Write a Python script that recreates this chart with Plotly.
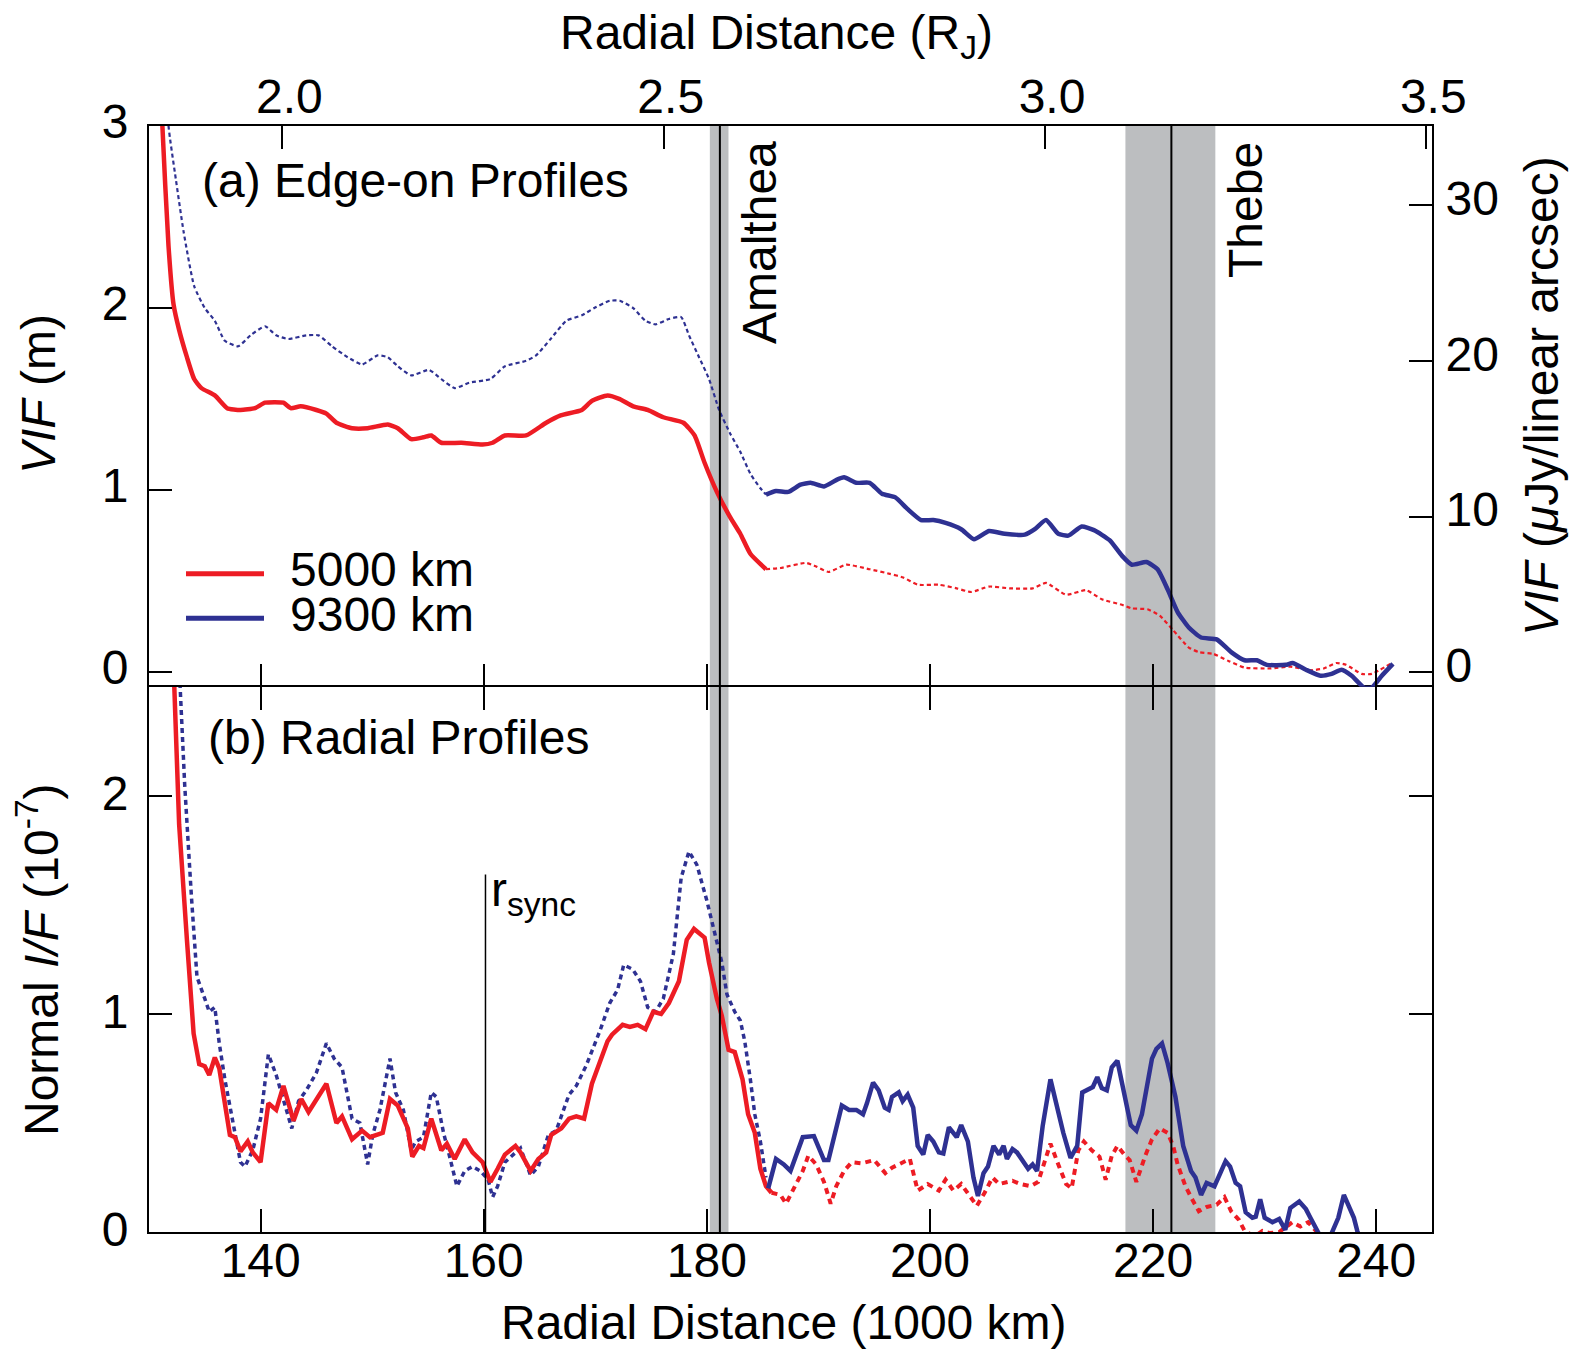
import plotly.graph_objects as go

# ---------------- data ----------------
# Top panel (a): edge-on profiles, VIF (m) vs radial distance (1000 km)
KM_A_RED_SOLID = [130.9, 131.2, 131.75, 132.2, 132.7, 133.4, 134.05, 134.7, 135.9, 137.0, 138.2, 139.5,
                  140.4, 142.05, 142.7, 143.6, 145.0, 145.9, 146.8, 148.2, 149.6, 151.4, 152.3, 153.5,
                  154.6, 155.3, 156.2, 158.0, 159.9, 160.8, 161.9, 163.8, 165.6, 166.9, 168.8, 169.7,
                  171.1, 172.2, 173.4, 174.7, 176.1, 177.9, 178.9, 179.8, 180.9, 182.1, 183.0, 183.9,
                  185.3]
VIF_A_RED_SOLID = [3.6, 3.0, 2.34, 2.02, 1.88, 1.73, 1.61, 1.56, 1.52, 1.45, 1.44, 1.45,
                   1.48, 1.48, 1.45, 1.46, 1.44, 1.42, 1.37, 1.34, 1.34, 1.36, 1.34, 1.28,
                   1.29, 1.30, 1.26, 1.26, 1.25, 1.26, 1.30, 1.30, 1.37, 1.41, 1.44, 1.49,
                   1.52, 1.50, 1.46, 1.44, 1.40, 1.37, 1.30, 1.15, 0.99, 0.85, 0.76, 0.65,
                   0.565]

KM_A_RED_DOT = [185.3, 186.6, 188.9, 189.8, 190.9, 192.5, 194.6, 196.4, 197.6, 198.9, 200.8, 202.4,
                203.7, 205.3, 207.2, 209.2, 210.4, 212.2, 214.0, 215.4, 217.2, 218.1, 219.5, 220.6,
                221.8, 223.2, 224.1, 225.4, 226.8, 228.2, 230.5, 232.3, 234.1, 235.3, 236.4, 237.3,
                238.7, 239.6, 241.4]
VIF_A_RED_DOT = [0.565, 0.572, 0.60, 0.58, 0.55, 0.59, 0.565, 0.54, 0.52, 0.48, 0.48, 0.46,
                 0.44, 0.47, 0.46, 0.46, 0.49, 0.425, 0.45, 0.40, 0.37, 0.35, 0.345, 0.31,
                 0.23, 0.135, 0.11, 0.10, 0.06, 0.025, 0.02, 0.03, 0.01, 0.02, 0.05, 0.04,
                 -0.01, -0.01, 0.05]

KM_A_BLUE_DOT = [131.4, 131.75, 132.4, 133.1, 134.05, 135.0, 135.9, 136.8, 138.0, 139.1, 140.4, 141.4,
                 142.5, 144.1, 145.2, 146.4, 147.8, 149.1, 150.5, 151.4, 152.3, 153.5, 155.1, 156.2,
                 157.4, 158.7, 160.6, 161.9, 163.8, 164.7, 166.0, 167.4, 168.8, 169.9, 171.3, 172.2,
                 173.4, 174.5, 175.4, 176.6, 177.7, 178.4, 179.3, 180.2, 181.1, 182.1, 183.0, 183.9,
                 184.8, 185.3]
VIF_A_BLUE_DOT = [3.5, 3.0, 2.71, 2.42, 2.12, 2.00, 1.93, 1.82, 1.79, 1.85, 1.90, 1.85,
                  1.83, 1.85, 1.85, 1.79, 1.73, 1.69, 1.74, 1.73, 1.68, 1.63, 1.66, 1.61,
                  1.56, 1.59, 1.61, 1.68, 1.71, 1.74, 1.83, 1.93, 1.96, 2.00, 2.04, 2.04,
                  2.00, 1.93, 1.91, 1.94, 1.95, 1.85, 1.73, 1.61, 1.44, 1.31, 1.21, 1.09,
                  1.01, 0.975]

KM_A_BLUE_SOLID = [185.3, 186.2, 187.3, 188.4, 189.3, 190.5, 191.6, 192.3, 193.4, 194.6, 195.7, 196.9,
                   198.0, 199.2, 200.3, 201.4, 202.8, 203.95, 205.3, 206.7, 208.5, 209.4, 210.4, 211.5,
                   212.4, 213.6, 214.7, 216.1, 217.2, 218.1, 219.4, 220.4, 221.3, 222.2, 223.2, 224.3,
                   225.7, 227.0, 228.2, 229.3, 230.2, 231.9, 232.5, 233.7, 235.0, 236.0, 236.9, 237.8,
                   238.9, 239.6, 240.5, 241.5]
VIF_A_BLUE_SOLID = [0.975, 0.995, 0.99, 1.03, 1.04, 1.02, 1.055, 1.07, 1.04, 1.04, 0.98, 0.96,
                    0.895, 0.835, 0.835, 0.82, 0.785, 0.73, 0.775, 0.76, 0.755, 0.785, 0.835, 0.76,
                    0.75, 0.80, 0.78, 0.725, 0.64, 0.59, 0.605, 0.565, 0.455, 0.33, 0.245, 0.19,
                    0.18, 0.11, 0.065, 0.065, 0.04, 0.04, 0.05, 0.013, -0.02, -0.01, 0.013, -0.02,
                    -0.085, -0.085, -0.02, 0.045]

# Bottom panel (b): radial profiles, normal I/F (1e-7)
KM_B_RED_SOLID = [132.2, 132.7, 133.4, 134.0, 134.5, 135.0, 135.4, 135.9, 136.3, 136.8, 137.25, 137.7,
                  138.2, 138.85, 139.3, 140.0, 140.7, 141.4, 142.05, 142.96, 143.65, 144.3, 145.0, 145.9,
                  146.8, 147.3, 148.2, 149.1, 149.8, 150.95, 151.6, 152.3, 153.2, 153.6, 154.2, 154.6,
                  155.3, 156.2, 156.7, 157.4, 158.3, 159.0, 159.9, 160.6, 161.25, 161.9, 162.85, 163.3,
                  164.2, 164.9, 165.6, 166.05, 166.96, 167.65, 168.3, 169.0, 169.7, 170.4, 171.1, 171.5,
                  172.45, 173.1, 173.8, 174.5, 175.2, 175.9, 176.6, 177.5, 178.2, 178.85, 179.8, 180.2,
                  180.9, 181.35, 181.95, 182.5, 183.2, 183.7, 184.3, 184.8, 185.3, 185.8]
IF_B_RED_SOLID = [2.6, 1.87, 1.34, 0.91, 0.77, 0.76, 0.72, 0.80, 0.75, 0.60, 0.445, 0.435,
                  0.37, 0.415, 0.365, 0.32, 0.59, 0.56, 0.67, 0.51, 0.61, 0.55, 0.61, 0.68,
                  0.50, 0.53, 0.425, 0.465, 0.435, 0.455, 0.61, 0.58, 0.475, 0.345, 0.395, 0.385,
                  0.52, 0.375, 0.405, 0.335, 0.425, 0.365, 0.32, 0.23, 0.29, 0.355, 0.395, 0.365,
                  0.28, 0.335, 0.365, 0.445, 0.475, 0.52, 0.53, 0.52, 0.68, 0.78, 0.875, 0.905,
                  0.95, 0.94, 0.95, 0.93, 1.01, 1.00, 1.05, 1.15, 1.34, 1.39, 1.35, 1.235,
                  1.07, 0.99, 0.835, 0.825, 0.70, 0.54, 0.455, 0.29, 0.21, 0.18]

KM_B_BLUE_DOT = [132.7, 133.2, 133.8, 134.3, 135.0, 135.4, 135.9, 136.3, 136.8, 137.5, 138.2, 138.6,
                 139.3, 140.0, 140.7, 141.4, 142.05, 142.8, 143.4, 144.1, 145.0, 145.9, 146.6, 147.3,
                 148.2, 148.9, 149.6, 150.05, 150.7, 151.6, 152.1, 152.8, 153.5, 153.9, 154.6, 155.3,
                 155.75, 156.4, 156.9, 157.6, 158.3, 159.0, 159.7, 160.4, 160.8, 161.25, 161.9, 162.6,
                 163.3, 164.2, 164.9, 165.8, 166.5, 167.65, 168.3, 169.2, 170.4, 171.3, 172.0, 172.55,
                 173.35, 174.05, 174.7, 175.4, 176.1, 177.0, 177.7, 178.4, 179.1, 180.0, 180.7, 181.35,
                 181.8, 182.5, 183.0, 183.4, 183.9, 184.3, 184.8, 185.3]
IF_B_BLUE_DOT = [2.6, 2.05, 1.54, 1.17, 1.07, 1.01, 1.03, 0.865, 0.70, 0.50, 0.32, 0.30,
                 0.375, 0.52, 0.815, 0.72, 0.60, 0.475, 0.60, 0.65, 0.73, 0.865, 0.795, 0.755,
                 0.52, 0.50, 0.31, 0.445, 0.56, 0.795, 0.64, 0.56, 0.375, 0.415, 0.435, 0.64,
                 0.62, 0.455, 0.355, 0.21, 0.28, 0.30, 0.28, 0.24, 0.16, 0.21, 0.32, 0.355,
                 0.385, 0.26, 0.30, 0.445, 0.465, 0.63, 0.67, 0.765, 0.92, 1.05, 1.11, 1.225,
                 1.205, 1.15, 1.03, 1.01, 1.07, 1.275, 1.625, 1.745, 1.685, 1.52, 1.37, 1.235,
                 1.09, 1.01, 0.97, 0.875, 0.70, 0.54, 0.415, 0.25]

KM_B_BLUE_SOLID = [185.5, 186.2, 186.9, 187.5, 188.6, 189.6, 190.5, 190.9, 192.1, 192.75, 193.4, 194.0,
                   194.35, 194.9, 195.4, 195.95, 196.3, 196.6, 197.2, 197.55, 198.0, 198.5, 198.9, 199.4,
                   199.8, 200.3, 200.8, 201.2, 201.7, 202.4, 202.8, 203.4, 203.9, 204.3, 204.8, 205.2,
                   205.7, 206.2, 206.6, 206.9, 207.4, 207.8, 208.8, 209.2, 209.6, 210.1, 210.8, 211.4,
                   211.95, 212.6, 213.2, 213.65, 214.2, 214.6, 215.0, 215.4, 215.85, 216.3, 216.8, 217.3,
                   218.0, 218.5, 219.0, 219.9, 220.3, 220.8, 221.3, 222.0, 222.7, 223.4, 223.8, 224.3,
                   224.8, 225.5, 225.9, 226.5, 226.9, 227.4, 227.8, 228.3, 228.9, 229.2, 229.6, 230.0,
                   230.7, 231.3, 231.85, 232.3, 233.1, 233.7, 234.1, 234.7, 235.3, 235.8, 236.1, 236.6,
                   237.1, 237.6, 238.0, 238.3, 238.7]
IF_B_BLUE_SOLID = [0.20, 0.335, 0.31, 0.28, 0.435, 0.44, 0.33, 0.33, 0.58, 0.56, 0.56, 0.54,
                   0.59, 0.685, 0.65, 0.57, 0.56, 0.62, 0.64, 0.60, 0.63, 0.57, 0.395, 0.355,
                   0.445, 0.415, 0.365, 0.36, 0.48, 0.435, 0.49, 0.415, 0.25, 0.165, 0.27, 0.30,
                   0.395, 0.355, 0.395, 0.335, 0.38, 0.365, 0.29, 0.31, 0.28, 0.485, 0.70, 0.56,
                   0.455, 0.34, 0.395, 0.64, 0.655, 0.665, 0.71, 0.66, 0.65, 0.755, 0.785, 0.67,
                   0.49, 0.465, 0.54, 0.795, 0.84, 0.865, 0.775, 0.62, 0.395, 0.28, 0.25, 0.17,
                   0.225, 0.21, 0.26, 0.325, 0.30, 0.225, 0.21, 0.09, 0.065, 0.07, 0.15, 0.065,
                   0.045, 0.06, 0.01, 0.11, 0.14, 0.105, 0.065, 0.005, -0.05, -0.03, 0.005, 0.065,
                   0.17, 0.105, 0.065, 0.005, -0.05]

KM_B_RED_DOT = [185.8, 186.6, 187.1, 188.6, 189.1, 189.8, 190.5, 191.1, 191.6, 192.3, 193.0, 193.9,
                195.0, 196.0, 196.6, 197.6, 198.2, 198.9, 199.8, 200.8, 201.4, 202.1, 202.8, 203.5,
                204.2, 204.9, 205.6, 206.2, 207.4, 208.1, 209.0, 209.7, 210.4, 210.8, 211.5, 212.2,
                212.7, 213.3, 213.8, 214.5, 215.2, 215.75, 216.3, 216.8, 217.5, 217.9, 218.5, 219.3,
                219.9, 220.6, 221.3, 221.8, 222.2, 222.9, 223.5, 224.1, 224.8, 225.7, 226.4, 227.0,
                227.7, 228.2, 229.1, 229.8, 230.5, 231.3, 232.5, 233.2, 233.9, 234.6, 235.2]
IF_B_RED_DOT = [0.18, 0.17, 0.13, 0.28, 0.35, 0.31, 0.23, 0.13, 0.21, 0.28, 0.32, 0.315,
                0.33, 0.27, 0.295, 0.32, 0.335, 0.19, 0.22, 0.19, 0.24, 0.19, 0.22, 0.17,
                0.12, 0.18, 0.25, 0.22, 0.235, 0.22, 0.21, 0.23, 0.35, 0.405, 0.31, 0.22,
                0.20, 0.375, 0.415, 0.375, 0.345, 0.24, 0.35, 0.395, 0.35, 0.33, 0.23, 0.35,
                0.425, 0.475, 0.455, 0.395, 0.31, 0.21, 0.15, 0.095, 0.115, 0.125, 0.16, 0.095,
                0.055, 0.005, -0.02, 0.005, -0.005, 0.0, 0.045, 0.025, 0.045, 0.005, -0.04]

# moon positions (1000 km) and shaded ranges
MOONS = ["Amalthea", "Thebe"]
MOON_KM = [181.17, 221.64]
MOON_BAND = [(180.27, 181.94), (217.52, 225.58)]
R_SYNC_KM = 160.16
R_SYNC_TOP = 1.64

X_TICKS = [140, 160, 180, 200, 220, 240]
RJ_TICKS = [2.0, 2.5, 3.0, 3.5]
RJ_TICK_TEXT = ["2.0", "2.5", "3.0", "3.5"]
VIF_M_TICKS = [0, 1, 2, 3]
VIF_UJY_TICKS = [0, 10, 20, 30]
IF_TICKS = [0, 1, 2]
LEGEND_LABELS = ["5000 km", "9300 km"]

# ---------------- styling ----------------
RED = "#ED1C24"
BLUE = "#2E3192"
GRAY = "#BCBEC0"
FONT = "Liberation Sans, Arial, Helvetica, sans-serif"
FS = 48
W, H = 1579, 1351
L, R, T, B = 149, 147, 126, 119
PW, PH = W - L - R, H - T - B
SPLIT = 0.4929


def px(xp):
    return (xp - L) / PW


def py(yp):
    return (H - B - yp) / PH


fig = go.Figure()

# top panel traces (x2, y)
fig.add_trace(go.Scatter(x=KM_A_BLUE_DOT, y=VIF_A_BLUE_DOT, xaxis="x2", yaxis="y", mode="lines",
                         line=dict(color=BLUE, width=2.2, dash="4px,3px", shape="spline", smoothing=0.5),
                         showlegend=False))
fig.add_trace(go.Scatter(x=KM_A_RED_DOT, y=VIF_A_RED_DOT, xaxis="x2", yaxis="y", mode="lines",
                         line=dict(color=RED, width=2.2, dash="4px,3px", shape="spline", smoothing=0.5),
                         showlegend=False))
fig.add_trace(go.Scatter(x=KM_A_RED_SOLID, y=VIF_A_RED_SOLID, xaxis="x2", yaxis="y", mode="lines",
                         line=dict(color=RED, width=4.5, shape="spline", smoothing=0.5),
                         showlegend=False))
fig.add_trace(go.Scatter(x=KM_A_BLUE_SOLID, y=VIF_A_BLUE_SOLID, xaxis="x2", yaxis="y", mode="lines",
                         line=dict(color=BLUE, width=4.5, shape="spline", smoothing=0.5),
                         showlegend=False))
# empty traces to register the secondary axes
fig.add_trace(go.Scatter(x=[], y=[], xaxis="x3", yaxis="y", showlegend=False))
fig.add_trace(go.Scatter(x=[], y=[], xaxis="x2", yaxis="y3", showlegend=False))

# bottom panel traces (x, y2)
fig.add_trace(go.Scatter(x=KM_B_BLUE_DOT, y=IF_B_BLUE_DOT, xaxis="x", yaxis="y2", mode="lines",
                         line=dict(color=BLUE, width=3.5, dash="5px,4px"), showlegend=False))
fig.add_trace(go.Scatter(x=KM_B_RED_DOT, y=IF_B_RED_DOT, xaxis="x", yaxis="y2", mode="lines",
                         line=dict(color=RED, width=4, dash="6px,5px"), showlegend=False))
fig.add_trace(go.Scatter(x=KM_B_RED_SOLID, y=IF_B_RED_SOLID, xaxis="x", yaxis="y2", mode="lines",
                         line=dict(color=RED, width=4.5), showlegend=False))
fig.add_trace(go.Scatter(x=KM_B_BLUE_SOLID, y=IF_B_BLUE_SOLID, xaxis="x", yaxis="y2", mode="lines",
                         line=dict(color=BLUE, width=4.5), showlegend=False))

axis_common = dict(showline=True, linecolor="black", linewidth=2, ticks="inside", ticklen=23,
                   tickwidth=1.8, tickcolor="black", showgrid=False, zeroline=False, automargin=False,
                   tickfont=dict(family=FONT, size=FS, color="black"))

shapes = []
for (b0, b1), mk in zip(MOON_BAND, MOON_KM):
    shapes.append(dict(type="rect", xref="x", yref="paper", x0=b0, x1=b1, y0=0, y1=1,
                       fillcolor=GRAY, line=dict(width=0), layer="below"))
    shapes.append(dict(type="line", xref="x", yref="paper", x0=mk, x1=mk, y0=0, y1=1,
                       line=dict(color="black", width=2), layer="above"))
shapes.append(dict(type="line", xref="x", yref="y2", x0=R_SYNC_KM, x1=R_SYNC_KM, y0=0, y1=R_SYNC_TOP,
                   line=dict(color="black", width=1.5)))
# legend swatches
for col, yy in zip([RED, BLUE], [573.7, 618.3]):
    shapes.append(dict(type="line", xref="paper", yref="paper", x0=px(186), x1=px(264),
                       y0=py(yy), y1=py(yy), line=dict(color=col, width=5)))

tf = dict(family=FONT, size=FS, color="black")
annotations = [
    dict(text="Radial Distance (R<sub>J</sub>)", x=px(776), y=py(36), xref="paper", yref="paper",
         xanchor="center", yanchor="middle", showarrow=False, font=tf),
    dict(text="Radial Distance (1000 km)", x=px(784), y=py(1322), xref="paper", yref="paper",
         xanchor="center", yanchor="middle", showarrow=False, font=tf),
    dict(text="<i>VIF</i> (m)", x=px(38), y=py(394), xref="paper", yref="paper", textangle=-90,
         xanchor="center", yanchor="middle", showarrow=False, font=tf),
    dict(text="Normal <i>I/F</i> (10<sup>-7</sup>)", x=px(38), y=py(960), xref="paper", yref="paper",
         textangle=-90, xanchor="center", yanchor="middle", showarrow=False, font=tf),
    dict(text="<i>VIF</i> (<i>μ</i>Jy/linear arcsec)", x=px(1541), y=py(396), xref="paper", yref="paper",
         textangle=-90, xanchor="center", yanchor="middle", showarrow=False, font=tf),
    dict(text="(a) Edge-on Profiles", x=px(201), y=py(180), xref="paper", yref="paper",
         xanchor="left", yanchor="middle", showarrow=False, font=tf, borderpad=0),
    dict(text="(b) Radial Profiles", x=px(207), y=py(737), xref="paper", yref="paper",
         xanchor="left", yanchor="middle", showarrow=False, font=tf, borderpad=0),
    dict(text=MOONS[0], x=px(760), y=py(243), xref="paper", yref="paper", textangle=-90,
         xanchor="center", yanchor="middle", showarrow=False, font=tf),
    dict(text=MOONS[1], x=px(1246), y=py(210), xref="paper", yref="paper", textangle=-90,
         xanchor="center", yanchor="middle", showarrow=False, font=tf),
    dict(text="r<sub>sync</sub>", x=px(490), y=py(862), xref="paper", yref="paper",
         xanchor="left", yanchor="top", showarrow=False, font=tf, borderpad=0),
]
for lab, yy in zip(LEGEND_LABELS, [569.7, 614.0]):
    annotations.append(dict(text=lab, x=px(289), y=py(yy), xref="paper", yref="paper",
                            xanchor="left", yanchor="middle", showarrow=False, font=tf, borderpad=0))

fig.update_layout(
    template="none",
    width=W, height=H, margin=dict(l=L, r=R, t=T, b=B, pad=0, autoexpand=False),
    paper_bgcolor="white", plot_bgcolor="white",
    font=dict(family=FONT, size=FS, color="black"),
    xaxis=dict(axis_common, domain=[0, 1], anchor="y2", range=[130, 245], tickvals=X_TICKS,
               mirror="ticks", ticklabelstandoff=-15),
    yaxis2=dict(axis_common, domain=[0, SPLIT], anchor="x", range=[0, 2.5], tickvals=IF_TICKS,
                mirror="ticks", ticklabelstandoff=9, ticklabelshift=-3),
    xaxis2=dict(axis_common, domain=[0, 1], anchor="y", range=[130, 245], tickvals=X_TICKS,
                showticklabels=False, showline=False),
    yaxis=dict(axis_common, domain=[SPLIT, 1], anchor="x2", range=[-0.081, 3], tickvals=VIF_M_TICKS,
               ticklabelstandoff=9, ticklabelshift=-5),
    yaxis3=dict(axis_common, overlaying="y", side="right", anchor="x2", range=[-0.948, 35.1],
                tickvals=VIF_UJY_TICKS, ticklabelstandoff=2, ticklabelshift=-7),
    xaxis3=dict(axis_common, overlaying="x2", side="top", anchor="y", range=[1.825, 3.5075],
                tickvals=RJ_TICKS, ticktext=RJ_TICK_TEXT, ticklabelstandoff=-8, ticklabelshift=7),
    shapes=shapes, annotations=annotations,
)

fig.write_html("out.html", config={"displayModeBar": False},
               post_script="document.body.style.margin='0px';document.body.style.overflow='hidden';")
